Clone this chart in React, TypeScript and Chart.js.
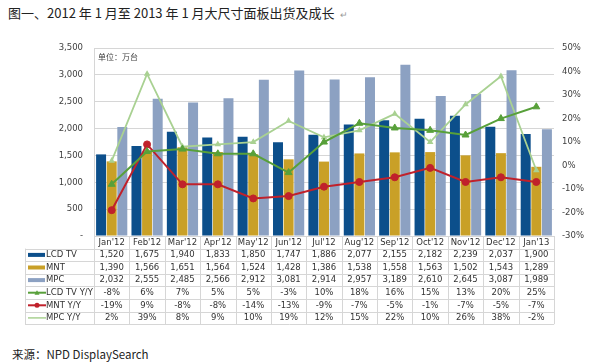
import React, { useEffect, useRef } from "react";
import { Chart, registerables } from "chart.js";

Chart.register(...registerables);

const categories = ["Jan'12", "Feb'12", "Mar'12", "Apr'12", "May'12", "Jun'12", "Jul'12", "Aug'12", "Sep'12", "Oct'12", "Nov'12", "Dec'12", "Jan'13"];
const lcdTv = [1520, 1675, 1940, 1833, 1850, 1747, 1886, 2077, 2155, 2182, 2239, 2037, 1900];
const mnt = [1390, 1566, 1651, 1564, 1524, 1428, 1386, 1538, 1558, 1563, 1502, 1543, 1289];
const mpc = [2032, 2555, 2485, 2566, 2912, 3081, 2914, 2957, 3189, 2610, 2645, 3087, 1989];
const lcdTvYoY = [-8, 6, 7, 5, 5, -3, 10, 18, 16, 15, 13, 20, 25];
const mntYoY = [-19, 9, -8, -8, -14, -13, -9, -7, -5, -1, -7, -5, -7];
const mpcYoY = [2, 39, 8, 9, 10, 19, 12, 15, 22, 10, 26, 38, -2];

const TITLE = "图一、2012 年 1 月至 2013 年 1 月大尺寸面板出货及成长";
const UNIT = "单位：万台";
const SOURCE = "来源：NPD DisplaySearch";

const C_LCD = "#0c4f8b";
const C_MNT = "#c9a027";
const C_MPC = "#8ca1c2";
const C_LCDY = "#58a03a";
const C_MNTY = "#c0212b";
const C_MPCY = "#a9d192";
const GRID = "#d6d6d6";
const FONT = "'DejaVu Sans', Verdana, sans-serif";

const fmtNum = (v: number) => v.toLocaleString("en-US");
const fmtPct = (v: number) => `${v}%`;

export default function App() {
  const ref = useRef<HTMLCanvasElement | null>(null);

  useEffect(() => {
    document.body.style.margin = "0";
    const canvas = ref.current;
    if (!canvas) return;

    const rows = [
      { label: "LCD TV", data: lcdTv, fmt: fmtNum, kind: "bar", color: C_LCD },
      { label: "MNT", data: mnt, fmt: fmtNum, kind: "bar", color: C_MNT },
      { label: "MPC", data: mpc, fmt: fmtNum, kind: "bar", color: C_MPC },
      { label: "LCD TV Y/Y", data: lcdTvYoY, fmt: fmtPct, kind: "tri", color: C_LCDY },
      { label: "MNT Y/Y", data: mntYoY, fmt: fmtPct, kind: "dot", color: C_MNTY },
      { label: "MPC Y/Y", data: mpcYoY, fmt: fmtPct, kind: "line", color: C_MPCY },
    ];

    const tablePlugin = {
      id: "dataTable",
      afterDraw(chart: any) {
        const ctx = chart.ctx;
        const area = chart.chartArea;
        const xs = chart.scales.x;
        const n = categories.length;
        const w = (area.right - area.left) / n;
        const rowH = 12.6;
        const top = area.bottom;
        const bottom = top + rowH * 7;
        const legLeft = 25;
        ctx.save();
        ctx.fillStyle = "#404040";
        ctx.font = `8px 'Noto Sans CJK SC', sans-serif`;
        ctx.textAlign = "left";
        ctx.textBaseline = "middle";
        ctx.fillText(UNIT, area.left + 4, area.top + 9);

        ctx.strokeStyle = GRID;
        ctx.lineWidth = 1;
        for (let i = 0; i <= n; i++) {
          const x = Math.round(area.left + i * w) + 0.5;
          ctx.beginPath();
          ctx.moveTo(x, top);
          ctx.lineTo(x, bottom);
          ctx.stroke();
        }
        ctx.beginPath();
        ctx.moveTo(legLeft + 0.5, top + rowH);
        ctx.lineTo(legLeft + 0.5, bottom);
        ctx.stroke();
        for (let r = 0; r <= 7; r++) {
          const y = Math.round(top + r * rowH) + 0.5;
          ctx.beginPath();
          ctx.moveTo(r === 0 ? area.left : legLeft, y);
          ctx.lineTo(area.right, y);
          ctx.stroke();
        }
        ctx.fillStyle = "#333";
        ctx.font = `8.5px ${FONT}`;
        ctx.textAlign = "center";
        ctx.textBaseline = "middle";
        for (let i = 0; i < n; i++) {
          const cx = xs.getPixelForValue(i);
          ctx.fillText(categories[i], cx, top + rowH * 0.5);
          rows.forEach((row, r) => {
            ctx.fillText(row.fmt(row.data[i]), cx, top + rowH * (r + 1.5));
          });
        }
        rows.forEach((row, r) => {
          const cy = top + rowH * (r + 1.5);
          if (row.kind === "bar") {
            ctx.fillStyle = row.color;
            ctx.fillRect(28, cy - 2, 17, 4);
          } else {
            ctx.strokeStyle = row.color;
            ctx.lineWidth = row.kind === "line" ? 1.5 : 2;
            ctx.beginPath();
            ctx.moveTo(28, cy);
            ctx.lineTo(46, cy);
            ctx.stroke();
            ctx.fillStyle = row.color;
            if (row.kind === "dot") {
              ctx.beginPath();
              ctx.arc(37, cy, 2.5, 0, Math.PI * 2);
              ctx.fill();
            } else if (row.kind === "tri") {
              ctx.beginPath();
              ctx.moveTo(37, cy - 2.5);
              ctx.lineTo(39.5, cy + 2);
              ctx.lineTo(34.5, cy + 2);
              ctx.closePath();
              ctx.fill();
            }
          }
          ctx.fillStyle = "#333";
          ctx.textAlign = "left";
          ctx.fillText(row.label, 46, cy);
        });
        ctx.restore();
      },
    };

    const chart = new Chart(canvas, {
      type: "bar",
      data: {
        labels: categories,
        datasets: [
          { type: "line", label: "LCD TV Y/Y", data: lcdTvYoY, yAxisID: "y1", borderColor: C_LCDY, backgroundColor: C_LCDY, borderWidth: 2, pointStyle: "triangle", pointRadius: 4, pointBorderWidth: 1, order: 1 },
          { type: "line", label: "MNT Y/Y", data: mntYoY, yAxisID: "y1", borderColor: C_MNTY, backgroundColor: C_MNTY, borderWidth: 2, pointStyle: "circle", pointRadius: 3.5, pointBorderWidth: 1, order: 1 },
          { type: "line", label: "MPC Y/Y", data: mpcYoY, yAxisID: "y1", borderColor: C_MPCY, backgroundColor: C_MPCY, borderWidth: 1.8, pointStyle: "triangle", pointRadius: 2, order: 1 },
          { type: "bar", label: "LCD TV", data: lcdTv, yAxisID: "y", backgroundColor: C_LCD, categoryPercentage: 0.9, barPercentage: 0.94, order: 2 },
          { type: "bar", label: "MNT", data: mnt, yAxisID: "y", backgroundColor: C_MNT, categoryPercentage: 0.9, barPercentage: 0.94, order: 2 },
          { type: "bar", label: "MPC", data: mpc, yAxisID: "y", backgroundColor: C_MPC, categoryPercentage: 0.9, barPercentage: 0.94, order: 2 },
        ] as any,
      },
      options: {
        animation: false,
        responsive: false,
        maintainAspectRatio: false,
        layout: { padding: { top: 12, bottom: 96, left: 0, right: 0 } },
        plugins: { legend: { display: false }, tooltip: { enabled: false }, title: { display: false } },
        scales: {
          x: { display: false, offset: true },
          y: {
            position: "left",
            min: 0,
            max: 3500,
            afterFit: (s: any) => { s.width = 94; },
            ticks: { stepSize: 500, padding: 11, color: "#404040", font: { family: FONT, size: 8.5 }, callback: (v: any) => (v === 0 ? "-" : Number(v).toLocaleString("en-US")) },
            grid: { color: GRID, drawTicks: false },
            border: { display: true, color: GRID },
          },
          y1: {
            position: "right",
            min: -30,
            max: 50,
            afterFit: (s: any) => { s.width = 46; },
            ticks: { stepSize: 10, padding: 8, color: "#404040", font: { family: FONT, size: 8.5 }, callback: (v: any) => `${v}%` },
            grid: { display: false, drawTicks: false },
            border: { display: false },
          },
        },
      },
      plugins: [tablePlugin],
    });
    return () => chart.destroy();
  }, []);

  return (
    <div style={{ position: "fixed", left: 0, top: 0, width: 600, height: 364, background: "#fff", overflow: "hidden" }}>
      <div style={{ position: "absolute", left: 8, top: 4, fontFamily: "'Noto Sans CJK SC', sans-serif", fontSize: 13, color: "#222", whiteSpace: "nowrap", lineHeight: "18px" }}>
        {TITLE}
        <span style={{ color: "#999", fontSize: 9, marginLeft: 5 }}>↵</span>
      </div>
      <canvas ref={ref} width={600} height={300} style={{ position: "absolute", left: 0, top: 32, width: 600, height: 300 }} />
      <div style={{ position: "absolute", left: 12, top: 346, fontFamily: "'Noto Sans CJK SC', sans-serif", fontSize: 11.5, color: "#222", whiteSpace: "nowrap", lineHeight: "16px" }}>
        {SOURCE}
      </div>
    </div>
  );
}
